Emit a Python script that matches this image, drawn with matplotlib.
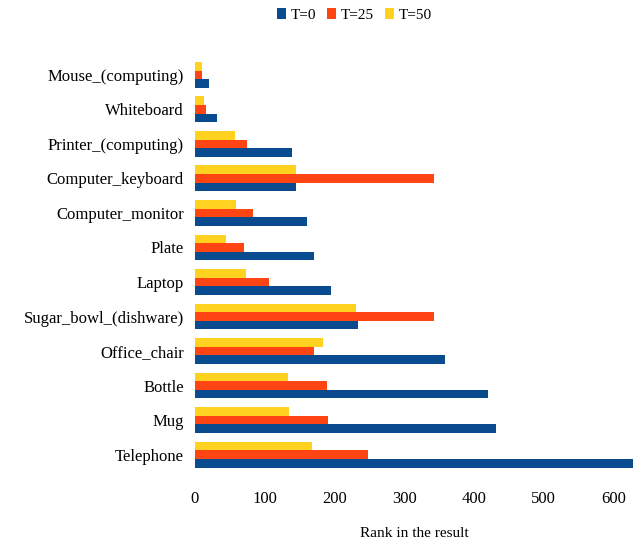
import numpy as np
import matplotlib
matplotlib.use("Agg")
import matplotlib.pyplot as plt
from matplotlib.patches import Patch

# datos (de abajo hacia arriba)
categorias = ["Telephone", "Mug", "Bottle", "Office_chair", "Sugar_bowl_(dishware)",
              "Laptop", "Plate", "Computer_monitor", "Computer_keyboard",
              "Printer_(computing)", "Whiteboard", "Mouse_(computing)"]
t0 = [640, 431, 420, 359, 234, 195, 171, 161, 145, 139, 32, 20]
t25 = [248, 191, 189, 171, 343, 106, 71, 83, 343, 75, 16, 10]
t50 = [168, 135, 134, 183, 231, 73, 44, 59, 145, 57, 13, 10]
series = ["T=0", "T=25", "T=50"]
colores = ["#0a4a8f", "#ff4513", "#ffd21f"]

plt.rcParams["font.family"] = ["Liberation Serif", "DejaVu Serif"]

fig = plt.figure(figsize=(6.33, 5.43), dpi=100)
ax = fig.add_axes([0.308, 0.131, 0.692, 0.763])

y = np.arange(len(categorias))
h = 0.25
for k, (vals, col) in enumerate(zip([t0, t25, t50], colores)):
    ax.barh(y + (k - 1) * h, vals, height=h, color=col, edgecolor="none")

ax.set_yticks(y)
ax.set_yticklabels(categorias, fontsize=12)
ax.set_xticks(np.arange(0, 700, 100))
ax.tick_params(axis="x", labelsize=12, length=0, pad=14)
ax.tick_params(axis="y", length=0, pad=8)
ax.set_xlim(0, 628)
ax.set_ylim(-0.5, len(categorias) - 0.5)
for s in ax.spines.values():
    s.set_visible(False)
ax.set_xlabel("Rank in the result", fontsize=11, labelpad=14)

handles = [Patch(facecolor=c, edgecolor="none") for c in colores]
fig.legend(handles, series, loc="center", bbox_to_anchor=(0.56, 0.972), ncol=3,
           frameon=False, fontsize=11, handlelength=0.6, handleheight=0.7,
           handletextpad=0.3, columnspacing=0.7)

plt.savefig("out.png", dpi=100)
